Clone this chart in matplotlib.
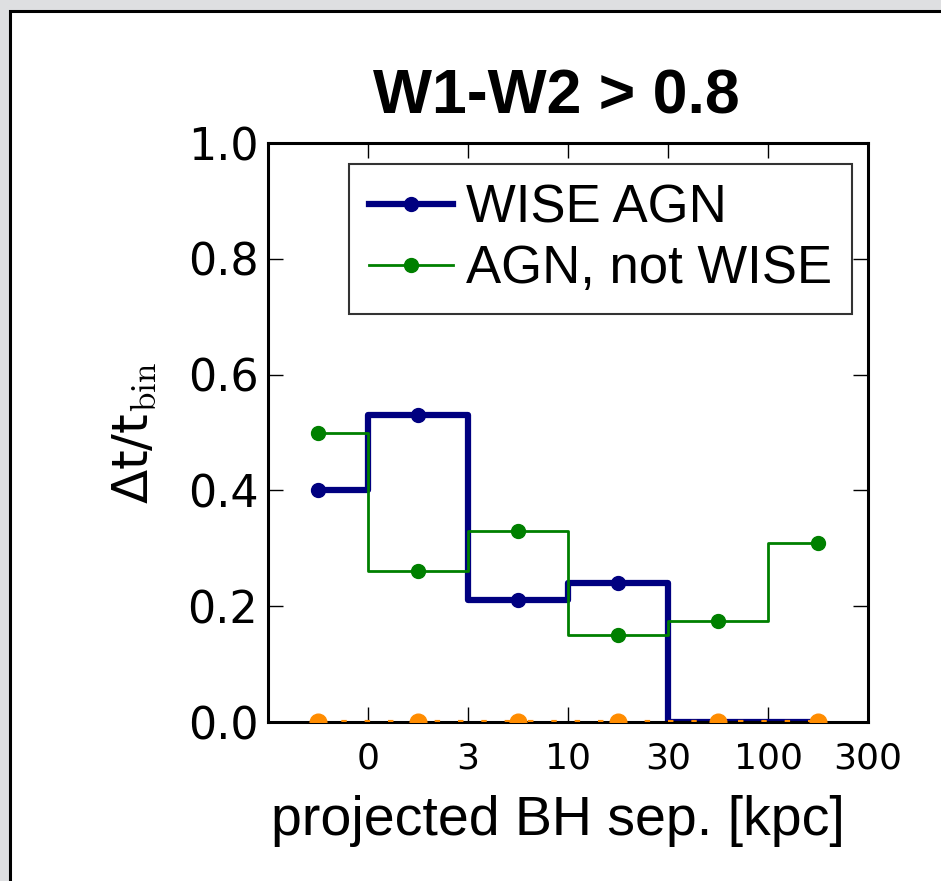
import numpy as np
import matplotlib.pyplot as plt
from matplotlib.patches import Rectangle

# bins of projected separation (kpc)
bin_edges = ["0", "3", "10", "30", "100", "300"]
wise_agn = [0.40, 0.53, 0.21, 0.24, 0.0, 0.0]
agn_not_wise = [0.50, 0.26, 0.33, 0.15, 0.175, 0.31]
wise_not_agn = [0.0, 0.0, 0.0, 0.0, 0.0, 0.0]

plt.rcParams['mathtext.fontset'] = 'cm'

fig = plt.figure(figsize=(9.41, 8.81), dpi=100)
fig.patch.set_facecolor('#dedfe1')
fig.patches.append(Rectangle((9.5 / 941, -0.1), 1.2, 1 - 10.5 / 881 + 0.1,
                             transform=fig.transFigure, facecolor='white',
                             edgecolor='black', linewidth=2.2, zorder=-10))

ax = fig.add_axes([268 / 941, 1 - 722 / 881, 600 / 941, 579 / 881])
ax.set_zorder(5)

x = np.arange(len(wise_agn)) + 0.5
ax.plot(x, wise_agn, drawstyle='steps-mid', color='navy', lw=4.5,
        marker='o', ms=10, label='WISE AGN')
ax.plot(x, agn_not_wise, drawstyle='steps-mid', color='green', lw=2,
        marker='o', ms=10, label='AGN, not WISE')
ax.plot(x, wise_not_agn, drawstyle='steps-mid', color='darkorange', lw=3,
        ls=(0, (1.3, 4.3)), marker='o', ms=12, zorder=3)

ax.set_xlim(0, 6)
ax.set_ylim(0, 1.0)
ax.set_xticks(np.arange(1, 7))
ax.set_xticklabels(bin_edges)
ax.set_yticks([0.0, 0.2, 0.4, 0.6, 0.8, 1.0])
ax.set_yticklabels(['0.0', '0.2', '0.4', '0.6', '0.8', '1.0'])

for s in ax.spines.values():
    s.set_linewidth(2.2)
ax.tick_params(direction='in', length=11, width=1, top=True, right=True)
ax.tick_params(axis='y', labelsize=32, pad=7)
ax.tick_params(axis='x', labelsize=26, pad=14)

ax.set_title('W1-W2 > 0.8', fontsize=45, fontweight='bold',
             family='Liberation Sans', pad=21, x=0.48)
ax.set_xlabel('projected BH sep. [kpc]', fontsize=40, family='Liberation Sans',
              labelpad=14, x=0.483)
ax.set_ylabel('Δt/t$_{\\rm bin}$', fontsize=36, labelpad=21)

leg = ax.legend(loc='upper right', bbox_to_anchor=(0.973, 0.964), borderaxespad=0,
                numpoints=1, fancybox=False, handlelength=1.6, handletextpad=0.25,
                borderpad=0.37, labelspacing=0.21,
                prop={'family': 'Liberation Sans', 'size': 38})
leg.get_frame().set_edgecolor('black')
leg.get_frame().set_linewidth(1.5)

fig.savefig('out.png', dpi=100, facecolor=fig.get_facecolor())
